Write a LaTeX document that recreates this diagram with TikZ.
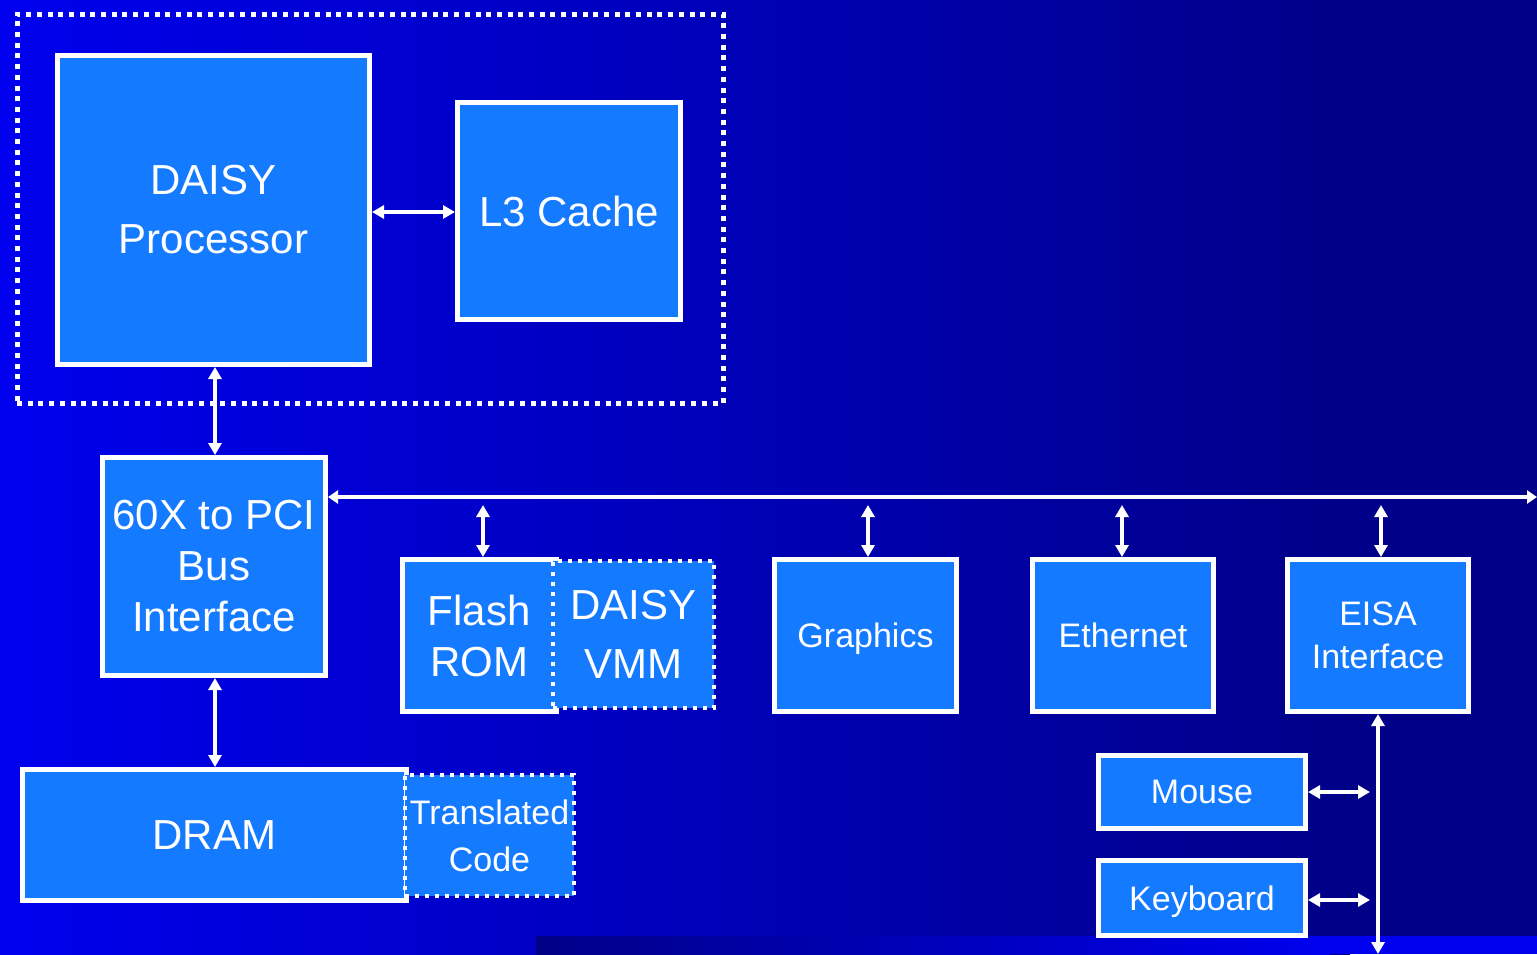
\documentclass[tikz,border=0pt]{standalone}
\usepackage{fontspec}
\setmainfont{Liberation Sans}
\usetikzlibrary{arrows.meta}
\definecolor{bgA}{RGB}{0,0,238}
\definecolor{bgB}{RGB}{0,0,136}
\definecolor{boxblue}{RGB}{20,122,255}
\tikzset{
 box/.style={draw=white, line width=2.5pt, fill=boxblue, text=white, inner sep=0pt, align=center},
 dotbox/.style={draw=white, line width=2pt, dash pattern=on 2pt off 3pt, fill=boxblue, text=white, inner sep=0pt, align=center},
 tip/.tip={Triangle[length=6pt,width=6.5pt]},
 link/.style={draw=white, line width=1.6pt, tip-tip},
 buslink/.style={draw=white, line width=2pt, {Triangle[length=5pt,width=6.5pt]}-{Triangle[length=5pt,width=6.5pt]}},
 big/.style={font=\fontsize{21}{#1}\selectfont},
 small/.style={font=\fontsize{17}{#1}\selectfont},
 sz/.style n args={2}{minimum width=#1, minimum height=#2},
}
\begin{document}
\begin{tikzpicture}[x=0.5pt,y=-0.5pt]
\useasboundingbox (0,0) rectangle (1537,954);
% background
\shade[left color=bgA, right color=bgB] (0,0) rectangle (1350,954);
\fill[bgB] (1349,0) rectangle (1537,954);
\shade[left color=bgB, right color=bgA] (536,936) rectangle (1330,954);
\fill[bgA] (1329,936) rectangle (1537,954);
% outer dotted region
\node[draw=white, line width=2.5pt, dash pattern=on 2.5pt off 2.85pt, inner sep=0pt, sz={353pt}{194.5pt}] (cpu) at (370,208.5) {};
% boxes
\node[box, big=29.5pt, sz={156pt}{154.5pt}] (proc) at (213.5,210) {DAISY\\Processor};
\node[box, big=25pt, sz={111.5pt}{108.5pt}] (l3) at (569,211) {L3 Cache};
\node[box, big=25.5pt, sz={111.5pt}{109pt}] (pci) at (214,566.5) {60X to PCI\\Bus\\Interface};
\node[box, big=25.5pt, sz={76.75pt}{76pt}] (flash) at (479.25,635.5) {Flash\\ROM};
\node[dotbox, big=29.5pt, sz={80.5pt}{73.5pt}] (vmm) at (633.5,634.5) {DAISY\\VMM};
\node[box, small=21pt, text depth=0pt, sz={91pt}{76pt}] (gfx) at (865.5,635.5) {Graphics};
\node[box, small=21pt, sz={90.5pt}{76pt}] (eth) at (1123,635.5) {Ethernet};
\node[box, small=21.5pt, sz={90.5pt}{76pt}] (eisa) at (1378,635.5) {EISA\\Interface};
\node[box, big=25pt, sz={191.75pt}{65.5pt}] (dram) at (214.25,835) {DRAM};
\node[dotbox, small=23.5pt, sz={84.5pt}{60.5pt}] (tc) at (489.5,835.5) {Translated\\Code};
\node[box, small=21pt, sz={103.5pt}{36.5pt}] (mouse) at (1202,792) {Mouse};
\node[box, small=21pt, text depth=0pt, sz={103.5pt}{37.5pt}] (kbd) at (1202,898) {Keyboard};
% coordinates
\coordinate (busR) at (1537,497);
\coordinate (bf) at (483,505);
\coordinate (bg) at (868,505);
\coordinate (be) at (1122,505);
\coordinate (bi) at (1381,505);
\coordinate (ebot) at (1378,954);
\coordinate (ev) at (1378,720);
\coordinate (mj) at (1370,792);
\coordinate (kj) at (1370,900);
% connectors
\draw[link] (proc.east |- 0,212) -- (l3.west |- 0,212);
\draw[link] (proc.south -| 215,0) -- (pci.north -| 215,0);
\draw[link] (pci.south -| 215,0) -- (dram.north -| 215,0);
\draw[buslink] (pci.east |- busR) -- (busR);
\draw[link] (bf) -- (bf |- flash.north);
\draw[link] (bg) -- (bg |- gfx.north);
\draw[link] (be) -- (be |- eth.north);
\draw[link] (bi) -- (bi |- eisa.north);
\draw[link] (ev |- eisa.south) -- (ebot);
\draw[link] (mouse.east |- mj) -- (mj);
\draw[link] (kbd.east |- kj) -- (kj);
\end{tikzpicture}
\end{document}
